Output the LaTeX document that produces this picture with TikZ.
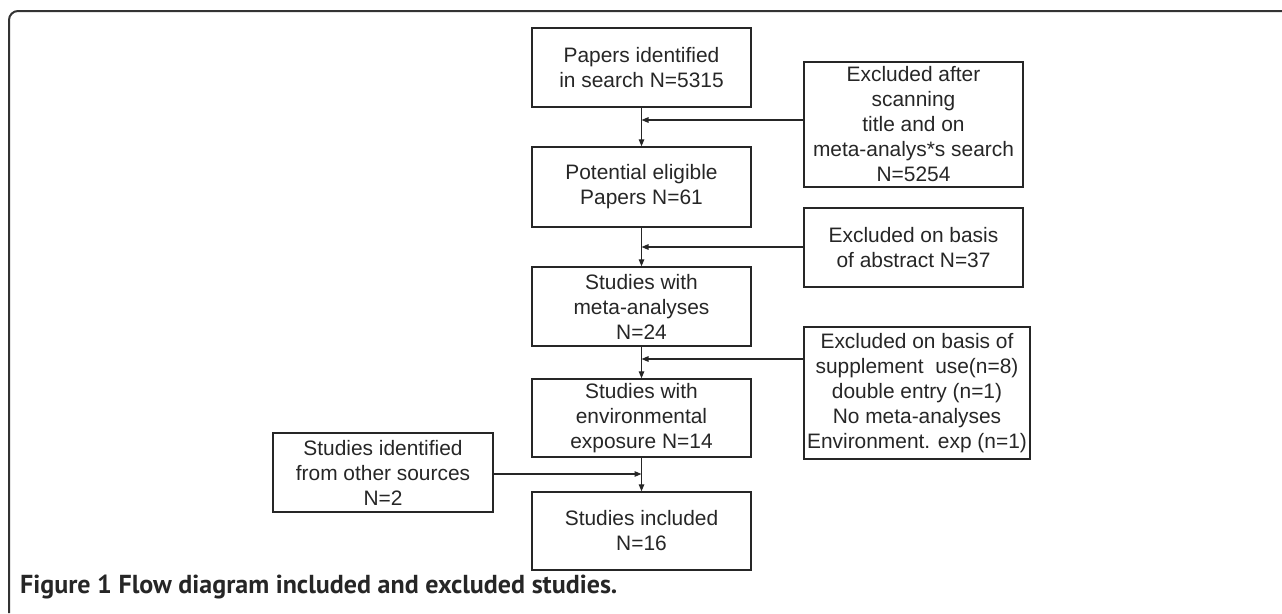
\documentclass[tikz,border=0pt]{standalone}
\usepackage{fontspec}
\setmainfont{Liberation Sans}
\newfontfamily\capfont{PT Sans}
\usetikzlibrary{arrows.meta,calc}
\definecolor{ink}{HTML}{262626}
\definecolor{frame}{HTML}{333333}
\begin{document}
\begin{tikzpicture}[x=1pt,y=-1pt,
  flowbox/.style={draw=ink,line width=1.4pt,inner sep=0pt,align=center,
    text=ink,font=\fontsize{20.9}{25}\selectfont,
    minimum width=219pt,minimum height=79pt},
  conn/.style={draw=ink,line width=1.3pt},
  arr/.style={conn,-{Triangle[length=7pt,width=5.5pt]}}]
\useasboundingbox (0,0) rectangle (1282,613);
% outer frame
\draw[frame,line width=2pt,rounded corners=9pt] (9,613) -- (9,11) -- (1282,11);
% main column
\node[flowbox] (b1) at (641.5,67.5) {Papers identified\\in search N=5315};
\node[flowbox,minimum height=80pt] (b2) at (641.5,187) {Potential eligible\\Papers N=61};
\node[flowbox] (b3) at (641.5,306.5) {Studies with\\meta-analyses\\N=24};
\node[flowbox,minimum height=78pt] (b4) at (641.5,418) {Studies with\\environmental\\exposure N=14};
\node[flowbox,minimum height=78pt] (b6) at (641.5,531) {Studies included\\N=16};
% side boxes
\node[flowbox,minimum height=125pt] (e1) at (913.5,124.5) {Excluded after\\scanning\\title and on\\meta-analys*s search\\N=5254};
\node[flowbox] (e2) at (913.5,247.5) {Excluded on basis\\of abstract N=37};
\node[flowbox,minimum width=226pt,minimum height=132pt] (e3) at (917,393) {Excluded on basis of\\supplement\ \ use(n=8)\\double entry (n=1)\\No meta-analyses\\Environment. exp (n=1)};
\node[flowbox,minimum width=220pt] (b5) at (383,472.5) {Studies identified\\from other sources\\N=2};
% junction points
\coordinate (j1) at (641.5,120);
\coordinate (j2) at (641.5,247);
\coordinate (j3) at (641.5,359);
\coordinate (j4) at (641.5,474);
% vertical connectors
\draw[arr] (b1.south) -- (b2.north);
\draw[arr] (b2.south) -- (b3.north);
\draw[arr] (b3.south) -- (b4.north);
\draw[arr] (b4.south) -- (b6.north);
% horizontal connectors
\draw[arr] (e1.west |- j1) -- (j1);
\draw[arr] (e2.west |- j2) -- (j2);
\draw[arr] (e3.west |- j3) -- (j3);
\draw[arr] (b5.east |- j4) -- (j4);
% caption
\node[anchor=base west,inner sep=0pt,text=ink,font=\capfont\bfseries\fontsize{26}{30}\selectfont] (cap) at (20,593) {Figure 1 Flow diagram included and excluded studies.};
\end{tikzpicture}
\end{document}
